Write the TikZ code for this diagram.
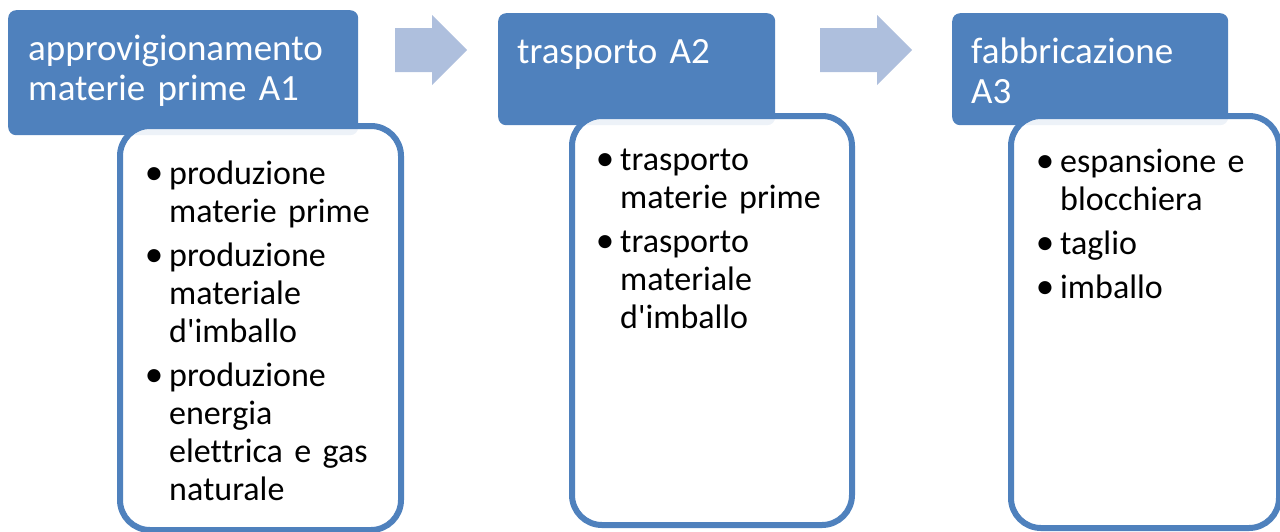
\documentclass[tikz,border=0pt]{standalone}
\usepackage{fontspec}
\setmainfont{Carlito}[Ligatures={NoCommon}]
\usetikzlibrary{positioning}
\definecolor{hdrblue}{HTML}{4F81BD}
\definecolor{arrblue}{HTML}{AEBFDD}
\newcommand{\puntino}{{\fontsize{37}{38}\selectfont\textbullet}}
\newenvironment{punti}{\begin{list}{\puntino}{%
  \setlength{\leftmargin}{0pt}\setlength{\labelwidth}{30pt}%
  \setlength{\labelsep}{6pt}\setlength{\itemindent}{0pt}%
  \setlength{\itemsep}{6pt}\setlength{\parsep}{0pt}%
  \setlength{\topsep}{0pt}\setlength{\partopsep}{0pt}}\raggedright}{\end{list}}
\tikzset{
  header/.style={fill=hdrblue, rounded corners=8pt, anchor=north west, inner sep=0pt},
  hdrtext/.style={text=white, text width=320pt, align=left, anchor=base west, inner sep=0pt,
    font=\fontsize{37}{40}\selectfont},
  bodybox/.style={draw=hdrblue, line width=6pt, fill=white, fill opacity=0.9,
    rounded corners=30pt, anchor=north west, inner sep=0pt},
  bodytext/.style={text width=230pt, align=left, anchor=base west, inner sep=0pt,
    font=\fontsize{34}{38}\selectfont}
}

\begin{document}
\begin{tikzpicture}[x=1pt,y=-1pt]
    \useasboundingbox (0,0) rectangle (1280,531);
    % blocchi di testata
    \node[header, minimum width=350, minimum height=125] (h1) at (8,10) {};
    \node[header, minimum width=277, minimum height=112] (h2) at (498,13) {};
    \node[header, minimum width=276, minimum height=112] (h3) at (952,13) {};
    % frecce
    \foreach \ax/\hx/\tx in {395/432/467, 820/877/912}
    {\fill[arrblue] (\ax,28) -- (\hx,28) -- (\hx,15) -- (\tx,50) -- (\hx,85) -- (\hx,72) -- (\ax,72) -- cycle;}
    % riquadri con gli elenchi
    \node[bodybox, minimum width=281, minimum height=404] (b1) at (117,123) {};
    \node[bodybox, minimum width=280, minimum height=409] (b2) at (569,113) {};
    \node[bodybox, minimum width=268, minimum height=412] (b3) at (1008,113) {};
    \node[hdrtext] (t1) at (28,60) {approvigionamento\\materie prime A1};
    \node[hdrtext] (t2) at (517,63) {trasporto A2};
    \node[hdrtext] (t3) at (971,63) {fabbricazione\\A3};
    \node[bodytext] (l1) at (169,146) {\begin{punti}
      \item produzione\\materie prime
      \item produzione\\materiale\\d\textquotesingle imballo
      \item produzione\\energia\\elettrica e gas\\naturale
    \end{punti}};
    \node[bodytext] (l2) at (620,132) {\begin{punti}
      \item trasporto\\materie prime
      \item trasporto\\materiale\\d\textquotesingle imballo
    \end{punti}};
    \node[bodytext] (l3) at (1060,134) {\begin{punti}
      \item espansione e\\blocchiera
      \item taglio
      \item imballo
    \end{punti}};
\end{tikzpicture}
\end{document}
